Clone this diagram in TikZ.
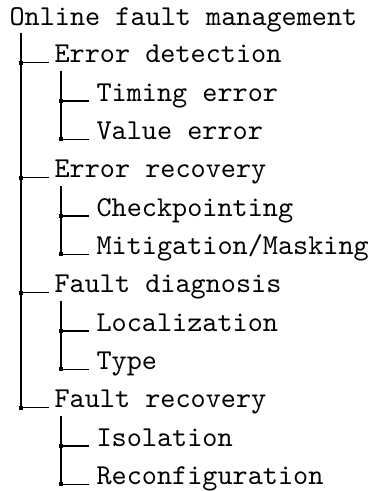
\documentclass[tikz,border=0pt]{standalone}
\begin{document}
\begin{tikzpicture}[x=0.3472pt,y=-0.3472pt,
  lbl/.style={anchor=base west,inner sep=0pt,font=\fontsize{10}{12}\selectfont\ttfamily},
  ln/.style={line width=0.4pt,black},
  dotsq/.style={fill=black,draw=none,rectangle,minimum size=1.4pt,inner sep=0pt}]
\useasboundingbox (0,0) rectangle (372,491);
% labels
\node[lbl] (root) at (9,25) {Online fault management};
\node[lbl] (ed)  at (54,62.7)  {Error detection};
\node[lbl] (te)  at (96,101)   {Timing error};
\node[lbl] (ve)  at (96,139.3) {Value error};
\node[lbl] (er)  at (54,177.7) {Error recovery};
\node[lbl] (cp)  at (96,216)   {Checkpointing};
\node[lbl] (mm)  at (96,254.3) {Mitigation/Masking};
\node[lbl] (fd)  at (54,292.7) {Fault diagnosis};
\node[lbl] (lo)  at (96,331)   {Localization};
\node[lbl] (ty)  at (96,369.3) {Type};
\node[lbl] (fr)  at (54,407.7) {Fault recovery};
\node[lbl] (is)  at (96,446)   {Isolation};
\node[lbl] (rc)  at (96,484.3) {Reconfiguration};
% level 1
\coordinate (r0) at (21,33);
\foreach \n in {ed,er,fd,fr}{
  \draw[ln] (\n.base west) ++(-5,0) -- ++(-28,0) coordinate (k-\n);
  \node[dotsq] at (k-\n) {};
}
\draw[ln] (r0) -- (k-fr);
% level 2
\foreach \n in {te,ve,cp,mm,lo,ty,is,rc}{
  \draw[ln] (\n.base west) ++(-7,0) -- ++(-28,0) coordinate (k-\n);
  \node[dotsq] at (k-\n) {};
}
\draw[ln] (ed.base west) ++(7,8) -- (k-ve);
\draw[ln] (er.base west) ++(7,8) -- (k-mm);
\draw[ln] (fd.base west) ++(7,8) -- (k-ty);
\draw[ln] (fr.base west) ++(7,8) -- (k-rc);
\end{tikzpicture}
\end{document}
